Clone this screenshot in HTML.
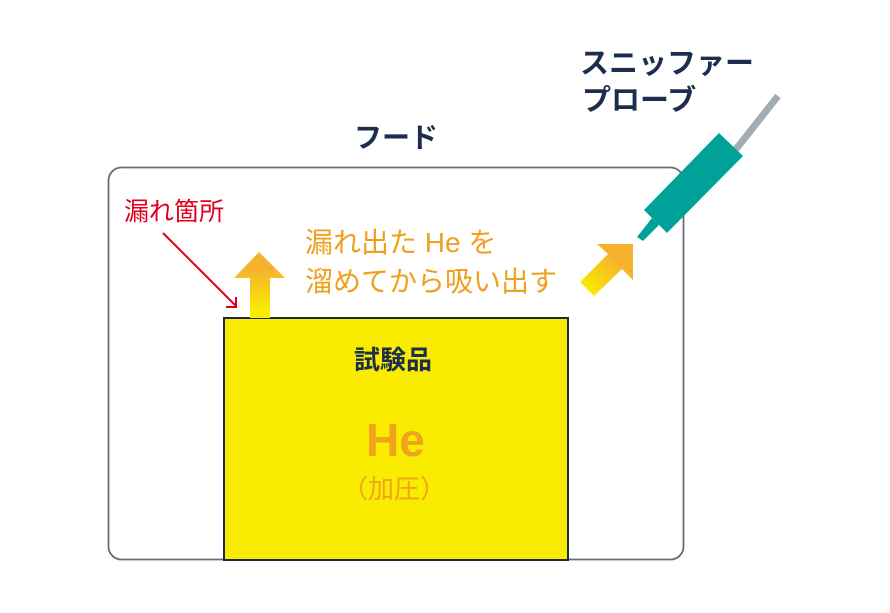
<!DOCTYPE html>
<html><head><meta charset="utf-8"><style>body{margin:0;background:#fff}svg{display:block}text{font-family:"Liberation Sans","Noto Sans CJK JP",sans-serif}</style></head><body>
<svg width="890" height="613" viewBox="0 0 890 613" xmlns="http://www.w3.org/2000/svg">
<defs>
<linearGradient id="g1" x1="0" y1="1" x2="0" y2="0"><stop offset="0.1" stop-color="#f9ec00"/><stop offset="0.75" stop-color="#f5b22e"/></linearGradient>
<linearGradient id="g2" x1="0" y1="1" x2="1" y2="0"><stop offset="0.1" stop-color="#f9ec00"/><stop offset="0.7" stop-color="#f5b22e"/></linearGradient>
</defs>
<rect x="108.5" y="167.5" width="575" height="392" rx="13" fill="#fff" stroke="#6e6a7c" stroke-width="1.8"/>
<rect x="224" y="318" width="344" height="242" fill="#f9ec00" stroke="#1c2a4a" stroke-width="2"/>
<polygon points="250,318 250,278 234,278 259,252 285,278 270,278 270,318" fill="url(#g1)"/>
<line x1="163" y1="233" x2="236" y2="306" stroke="#e0001e" stroke-width="2"/>
<polyline points="236,297 236,307 226,307" fill="none" stroke="#e0001e" stroke-width="2"/>
<polygon points="580,282 608,254 597,244 633,244 633,280 622,269 594,296" fill="url(#g2)"/>
<line x1="718" y1="172" x2="778" y2="96" stroke="#a2adb3" stroke-width="7"/>
<polygon points="719,133 743,156 667,233 644,210" fill="#00a199"/>
<polygon points="637,237 643,241 659,225 652,218" fill="#00a199"/>
<text x="580" y="73" font-size="29" font-weight="bold" fill="#1c2e4e">スニッファー</text>
<text x="582" y="110" font-size="29" font-weight="bold" fill="#1c2e4e">プローブ</text>
<text x="354" y="147" font-size="28" font-weight="bold" fill="#1c2e4e">フード</text>
<text x="124" y="220" font-size="25" fill="#e0001e">漏れ箇所</text>
<text x="305" y="252" font-size="28" fill="#f0a01e">漏れ出た He を</text>
<text x="305" y="291" font-size="28" fill="#f0a01e">溜めてから吸い出す</text>
<text x="354" y="369" font-size="26" font-weight="bold" fill="#1c2e4e">試験品</text>
<text x="366" y="456" font-size="46" font-weight="bold" fill="#f0a31c">He</text>
<text x="342" y="498" font-size="26" fill="#f0a31c">（加圧）</text>
</svg>
</body></html>
